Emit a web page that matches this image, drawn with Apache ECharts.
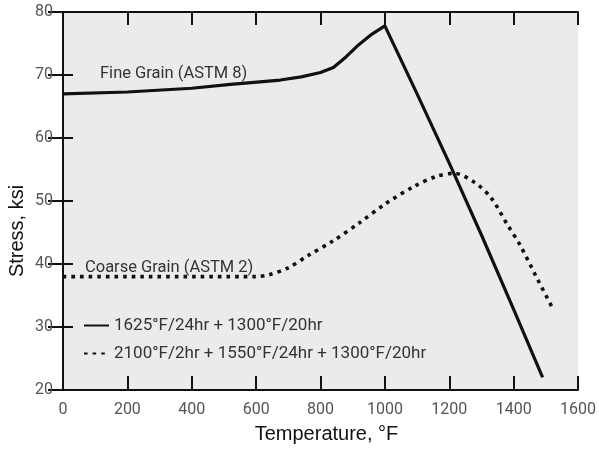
<!DOCTYPE html>
<html>
<head>
<meta charset="utf-8">
<script src="https://cdn.jsdelivr.net/npm/echarts@6/dist/echarts.min.js"></script>
<style>
  html, body { margin: 0; padding: 0; background: #ffffff; }
  #chart { width: 599px; height: 449px; }
</style>
</head>
<body>
<div id="chart"></div>
<script>
// Stress vs. temperature for two heat-treatment conditions
const fineName = '1625°F/24hr + 1300°F/20hr';
const coarseName = '2100°F/2hr + 1550°F/24hr + 1300°F/20hr';

const fineTemps  = [0, 200, 400, 520, 675, 740, 800, 840, 880, 914, 960, 1000, 1100, 1200, 1300, 1400, 1490];
const fineStress = [67.0, 67.3, 67.9, 68.5, 69.2, 69.7, 70.4, 71.2, 72.9, 74.6, 76.5, 77.8, 67.0, 56.0, 44.6, 32.8, 22.0];

const coarseTemps  = [0, 600, 640, 700, 760, 840, 920, 1000, 1090, 1160, 1215, 1280, 1330, 1380, 1420, 1470, 1525];
const coarseStress = [38.0, 38.0, 38.3, 39.4, 41.3, 43.7, 46.5, 49.5, 52.3, 53.9, 54.4, 52.9, 50.5, 46.3, 43.0, 38.0, 32.6];

const xTicks = { min: 0, max: 1600, step: 200 };
const yTicks = { min: 20, max: 80, step: 10 };

const fineLabel = 'Fine Grain (ASTM 8)';
const coarseLabel = 'Coarse Grain (ASTM 2)';

const pairs = (xs, ys) => xs.map((x, i) => [x, ys[i]]);

const labelFont = 'Roboto, "Liberation Sans", sans-serif';
const nameFont = '"Liberation Sans", Arial, sans-serif';
const ink = '#111111';

const chart = echarts.init(document.getElementById('chart'), null, { renderer: 'canvas' });

const axisLine = { show: true, lineStyle: { color: ink, width: 2 } };
const tick = (len) => ({ show: true, inside: true, length: len, lineStyle: { color: ink, width: 2 } });
const plain = (v) => String(v);

chart.setOption({
  backgroundColor: '#ffffff',
  animation: false,
  grid: {
    left: 63, right: 16, top: 12, bottom: 51, z: 0,
    show: true, backgroundColor: '#ebebeb', borderWidth: 0
  },
  legend: {
    orient: 'vertical',
    left: 78, top: 312, z: 12,
    itemWidth: 25, itemHeight: 14, itemGap: 11,
    data: [fineName, coarseName],
    itemStyle: { color: 'rgba(0,0,0,0)', borderWidth: 0 },
    textStyle: { fontFamily: labelFont, fontSize: 17, color: '#333333' }
  },
  xAxis: [{
    type: 'value', min: xTicks.min, max: xTicks.max, interval: xTicks.step,
    z: 10,
    name: 'Temperature, °F', nameLocation: 'middle', nameGap: 34,
    nameTextStyle: { fontFamily: nameFont, fontSize: 20, color: ink, padding: [0, 0, 0, 12] },
    axisLine: axisLine,
    axisTick: tick(14),
    axisLabel: { fontFamily: labelFont, fontSize: 16, color: '#555555', margin: 12, formatter: plain },
    splitLine: { show: false }
  }, {
    type: 'value', position: 'top', min: xTicks.min, max: xTicks.max, interval: xTicks.step,
    z: 10,
    axisLine: axisLine,
    axisTick: tick(13),
    axisLabel: { show: false },
    splitLine: { show: false }
  }],
  yAxis: [{
    type: 'value', min: yTicks.min, max: yTicks.max, interval: yTicks.step,
    z: 10,
    axisLine: axisLine,
    axisTick: tick(10),
    axisLabel: { fontFamily: labelFont, fontSize: 16, color: '#555555', margin: 10, formatter: plain },
    splitLine: { show: false }
  }, {
    type: 'value', position: 'right', min: yTicks.min, max: yTicks.max, interval: yTicks.step,
    z: 10,
    axisLine: axisLine,
    axisTick: tick(15),
    axisLabel: { show: false },
    splitLine: { show: false }
  }],
  graphic: [
    {
      type: 'text', left: 100, top: 65, z: 12,
      style: { text: fineLabel, font: '16.5px ' + labelFont, fill: '#333333' }
    },
    {
      type: 'text', left: 85, top: 259, z: 12,
      style: { text: coarseLabel, font: '16.5px ' + labelFont, fill: '#333333' }
    },
    {
      type: 'text', x: 17, y: 231, rotation: Math.PI / 2,
      style: {
        text: 'Stress, ksi', font: '20px ' + nameFont, fill: ink,
        align: 'center', verticalAlign: 'middle'
      }
    }
  ],
  series: [{
    name: fineName,
    type: 'line',
    data: pairs(fineTemps, fineStress),
    showSymbol: false, symbol: 'none',
    smooth: false,
    lineStyle: { color: ink, width: 3.2, type: 'solid', join: 'round' },
    itemStyle: { color: ink }
  }, {
    name: coarseName,
    type: 'line',
    data: pairs(coarseTemps, coarseStress),
    showSymbol: false, symbol: 'none',
    smooth: 0.3,
    lineStyle: { color: ink, width: 3.6, type: [3.6, 5], cap: 'butt' },
    itemStyle: { color: ink }
  }]
});
</script>
</body>
</html>
